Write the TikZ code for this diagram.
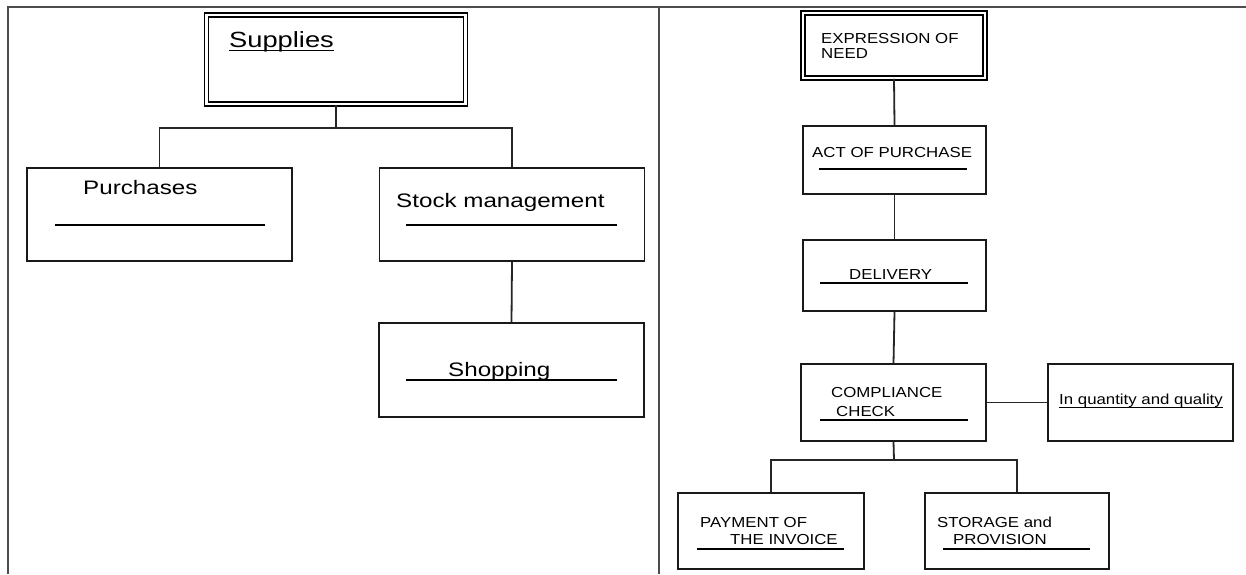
\documentclass[tikz,border=0pt]{standalone}
\usepackage{fontspec}
\setmainfont{Liberation Sans}
\newfontfamily\leftfont[FakeStretch=1.24]{Liberation Sans}
\newfontfamily\rightfont[FakeStretch=1.16]{Liberation Sans}
\begin{document}
\begin{tikzpicture}[x=1pt,y=-1pt,
  frameline/.style={line width=1.1pt, draw=black!70},
  box/.style={draw=black!90, line width=1.6pt, inner sep=0pt, fill=none},
  dbox/.style={draw=black, line width=1.5pt, double=white, double distance=2.4pt, inner sep=0pt},
  link/.style={draw=black!85, line width=1.8pt},
  rule/.style={draw=black, line width=1.5pt},
  ltext/.style={anchor=base west, inner sep=0pt, font=\leftfont\fontsize{19.5}{23}\selectfont},
  btext/.style={anchor=base west, inner sep=0pt, font=\leftfont\fontsize{22}{26}\selectfont},
  rtext/.style={anchor=base west, inner sep=0pt, font=\rightfont\fontsize{14.5}{17}\selectfont},
]
\useasboundingbox (0,0) rectangle (1246,574);
\fill[white] (0,0) rectangle (1246,574);

% page frame and column divider
\coordinate (fTL) at (8,7);
\coordinate (fTR) at (1246,7);
\coordinate (fBL) at (8,574);
\coordinate (dT) at (659,7);
\coordinate (dB) at (659,574);
\draw[frameline] (fBL) -- (fTL) -- (fTR);
\draw[frameline] (dT) -- (dB);

% ---------------- left column ----------------
\node[dbox, minimum width=259pt, minimum height=89pt] (sup) at (336,59.5) {};
\node[box, minimum width=265pt, minimum height=93pt] (pur) at (159.5,214.5) {};
\node[box, minimum width=265pt, minimum height=93pt] (stk) at (512,214.5) {};
\node[box, minimum width=265pt, minimum height=94pt] (shp) at (511.5,370) {};

\node[btext] (supT) at (229,47) {Supplies};
\draw[line width=1pt] ([yshift=-3pt]supT.base west) -- ([yshift=-3pt]supT.base east);

\node[ltext] (purT) at (83,194) {Purchases};
\coordinate (purL1) at (55,225);
\coordinate (purL2) at (265,225);
\draw[rule] (purL1) -- (purL2);

\node[ltext] (stkT) at (396,207) {Stock management};
\coordinate (stkL1) at (406,225);
\coordinate (stkL2) at (617,225);
\draw[rule] (stkL1) -- (stkL2);

\node[ltext] (shpT) at (448,376) {Shopping};
\coordinate (shpL1) at (406,380);
\coordinate (shpL2) at (617,380);
\draw[rule] (shpL1) -- (shpL2);

\coordinate (busL) at (336,128);
\draw[link] (sup.south) -- (busL);
\draw[link] (pur.north) |- (busL) -| (stk.north);
\draw[link] (stk.south) -- (shp.north);

% ---------------- right column ----------------
\node[dbox, minimum width=182pt, minimum height=65pt] (exp) at (894,45.5) {};
\node[box, minimum width=183pt, minimum height=68pt] (act) at (894.5,160) {};
\node[box, minimum width=183pt, minimum height=71pt] (del) at (894.5,275.5) {};
\node[box, minimum width=185pt, minimum height=77pt] (cmp) at (893.5,402.5) {};
\node[box, minimum width=185pt, minimum height=77pt] (qty) at (1140.5,402.5) {};
\node[box, minimum width=186pt, minimum height=76pt] (pay) at (771,531) {};
\node[box, minimum width=184pt, minimum height=76pt] (sto) at (1017,531) {};

\node[rtext] (expT1) at (821,43) {EXPRESSION OF};
\node[rtext] (expT2) at (821,58) {NEED};

\node[rtext] (actT) at (812,157) {ACT OF PURCHASE};
\coordinate (actL1) at (819,169);
\coordinate (actL2) at (967,169);
\draw[rule] (actL1) -- (actL2);

\node[rtext] (delT) at (849,279) {DELIVERY};
\coordinate (delL1) at (820,283);
\coordinate (delL2) at (968,283);
\draw[rule] (delL1) -- (delL2);

\node[rtext] (cmpT1) at (831,397) {COMPLIANCE};
\node[rtext] (cmpT2) at (836,416) {CHECK};
\coordinate (cmpL1) at (820,420);
\coordinate (cmpL2) at (968,420);
\draw[rule] (cmpL1) -- (cmpL2);

\node[rtext] (qtyT) at (1059,404) {In quantity and quality};
\draw[line width=0.9pt] ([yshift=-3pt]qtyT.base west) -- ([yshift=-3pt]qtyT.base east);

\node[rtext] (payT1) at (700,527.5) {PAYMENT OF};
\node[rtext] (payT2) at (730,544) {THE INVOICE};
\coordinate (payL1) at (697,549);
\coordinate (payL2) at (844,549);
\draw[rule] (payL1) -- (payL2);

\node[rtext] (stoT1) at (937,527.5) {STORAGE and};
\node[rtext] (stoT2) at (953,544) {PROVISION};
\coordinate (stoL1) at (943,549);
\coordinate (stoL2) at (1090,549);
\draw[rule] (stoL1) -- (stoL2);

\coordinate (busR) at (894,460);
\draw[link] (exp.south) -- (act.north);
\draw[link] (act.south) -- (del.north);
\draw[link] (del.south) -- (cmp.north);
\draw[link] (cmp.east) -- (qty.west);
\draw[link] (cmp.south) -- (busR);
\draw[link] (pay.north) |- (busR) -| (sto.north);
\end{tikzpicture}
\end{document}
